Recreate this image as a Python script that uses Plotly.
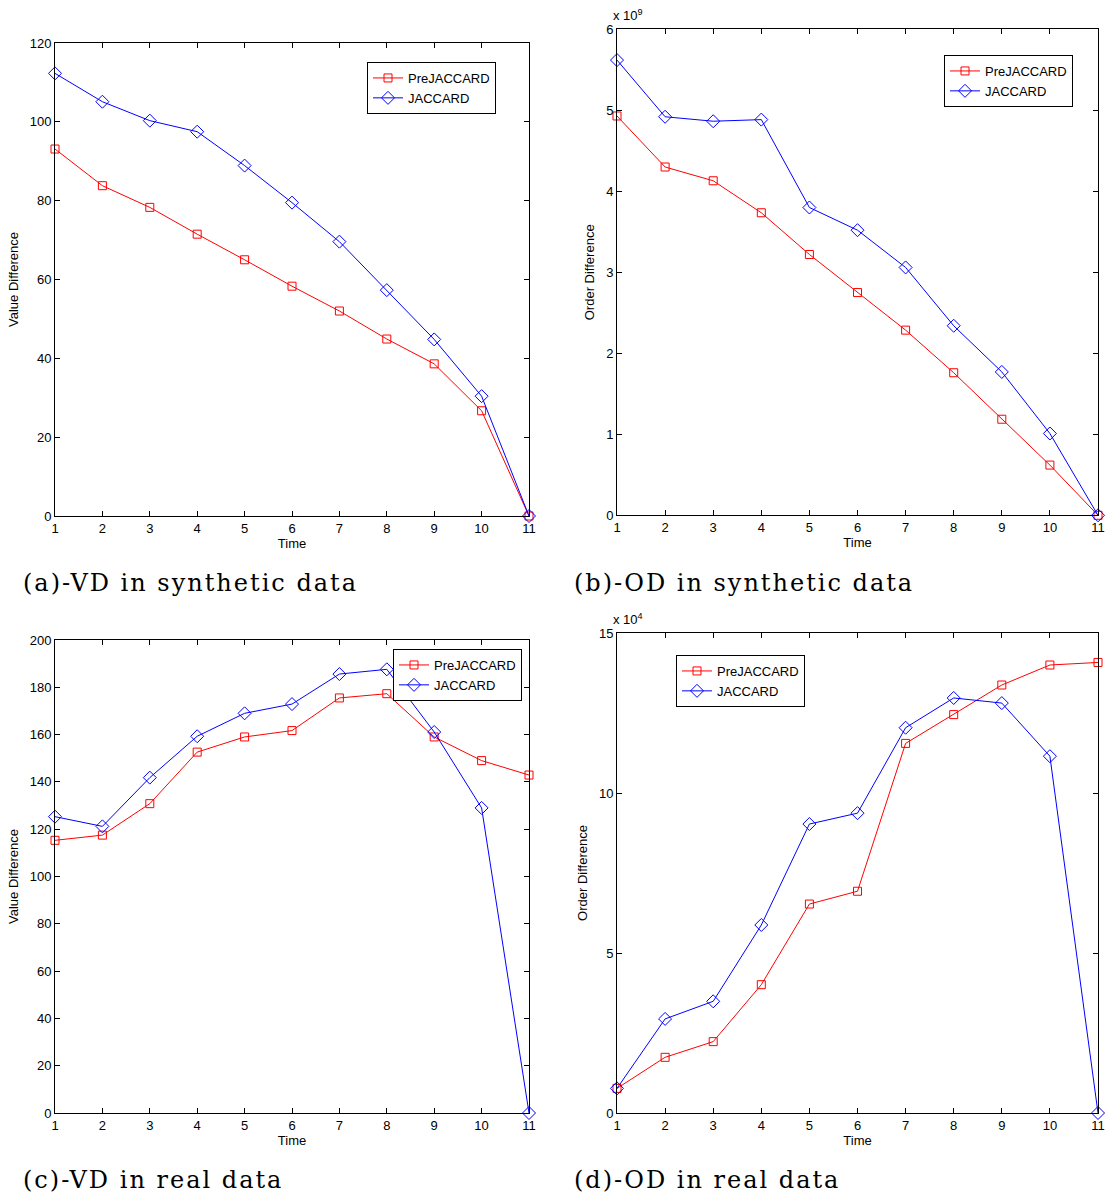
import plotly.graph_objects as go

W, H = 1107, 1199

time = list(range(1, 12))

# (a) value difference, synthetic data
vd_syn_pre = [93.1, 83.8, 78.3, 71.5, 65.0, 58.3, 52.0, 44.9, 38.6, 26.7, 0]
vd_syn_jac = [112.3, 105.1, 100.3, 97.5, 88.9, 79.5, 69.6, 57.3, 44.8, 30.4, 0]

# (b) order difference, synthetic data (units of 1e9)
od_syn_pre = [4.93, 4.30, 4.13, 3.735, 3.22, 2.75, 2.286, 1.76, 1.186, 0.62, 0]
od_syn_jac = [5.62, 4.92, 4.865, 4.885, 3.80, 3.52, 3.06, 2.34, 1.77, 1.01, 0]

# (c) value difference, real data
vd_real_pre = [115.3, 117.5, 130.8, 152.6, 159.0, 161.7, 175.5, 177.3, 159.0, 149.0, 142.9]
vd_real_jac = [125.3, 121.2, 141.8, 159.3, 169.0, 172.9, 185.6, 187.6, 161.1, 129.0, 0]

# (d) order difference, real data (units of 1e4)
od_real_pre = [0.77, 1.74, 2.23, 4.01, 6.53, 6.93, 11.55, 12.45, 13.375, 14.0, 14.08]
od_real_jac = [0.77, 2.94, 3.49, 5.875, 9.03, 9.37, 12.04, 12.97, 12.81, 11.15, 0]

captions = ["(a)-VD in synthetic data", "(b)-OD in synthetic data",
            "(c)-VD in real data", "(d)-OD in real data"]
y_titles = ["Value Difference", "Order Difference", "Value Difference", "Order Difference"]
y_ranges = [[0, 120], [0, 6], [0, 200], [0, 15]]
y_dticks = [20, 1, 20, 5]
multipliers = [None, "x 10<sup>9</sup>", None, "x 10<sup>4</sup>"]

series = [
    (vd_syn_pre, vd_syn_jac),
    (od_syn_pre, od_syn_jac),
    (vd_real_pre, vd_real_jac),
    (od_real_pre, od_real_jac),
]

# panel boxes in pixels: left, right, top, bottom
boxes = [
    (55, 529, 43, 516),
    (617, 1098, 29.3, 515.3),
    (55, 529, 640, 1113),
    (617, 1098, 633, 1113),
]
# legend top-left corners in pixels
legend_pos = [(367, 62), (944, 55), (393, 649), (676, 655)]
caption_pos = [(21, 583), (572, 583), (21, 1180), (572, 1180)]

def px(x):
    return x / W

def py(y):
    return 1 - y / H

RED = "#ff0000"
BLUE = "#0000ff"
AX_FONT = dict(family="Liberation Sans, Arial, sans-serif", size=13, color="black")
LEG_FONT = dict(family="Liberation Sans, Arial, sans-serif", size=13, color="black")

fig = go.Figure()
annotations = []
layout = {}

for i, (pre, jac) in enumerate(series):
    n = i + 1
    sfx = "" if n == 1 else str(n)
    leg = "legend" if n == 1 else f"legend{n}"
    fig.add_trace(go.Scatter(
        x=time, y=pre, name="PreJACCARD", mode="lines+markers",
        line=dict(color=RED, width=1),
        marker=dict(symbol="square-open", size=8, color=RED, line=dict(width=1)),
        xaxis=f"x{sfx}", yaxis=f"y{sfx}", legend=leg, cliponaxis=False,
    ))
    fig.add_trace(go.Scatter(
        x=time, y=jac, name="JACCARD", mode="lines+markers",
        line=dict(color=BLUE, width=1),
        marker=dict(symbol="diamond-open", size=10, color=BLUE, line=dict(width=1)),
        xaxis=f"x{sfx}", yaxis=f"y{sfx}", legend=leg, cliponaxis=False,
    ))

    l, r, t, b = boxes[i]
    common = dict(
        showline=True, linecolor="black", linewidth=1, mirror="allticks",
        ticks="inside", ticklen=5, tickcolor="black", tickwidth=1,
        showgrid=False, zeroline=False, tickfont=AX_FONT, automargin=False,
    )
    layout[f"xaxis{sfx}"] = dict(
        domain=[px(l), px(r)], range=[1, 11], tickmode="array",
        tickvals=time, anchor=f"y{sfx}",
        title=dict(text="Time", font=AX_FONT, standoff=2), **common,
    )
    layout[f"yaxis{sfx}"] = dict(
        domain=[py(b), py(t)], range=y_ranges[i], dtick=y_dticks[i], tick0=0,
        anchor=f"x{sfx}",
        title=dict(text=y_titles[i], font=AX_FONT, standoff=8), **common,
    )
    lx, ly = legend_pos[i]
    layout[leg] = dict(
        x=px(lx), y=py(ly), xanchor="left", yanchor="top",
        bgcolor="white", bordercolor="black", borderwidth=1,
        font=LEG_FONT, tracegroupgap=0, itemwidth=30,
    )
    if multipliers[i]:
        annotations.append(dict(
            text=multipliers[i], x=px(l - 6), y=py(t - 4), xref="paper", yref="paper",
            xanchor="left", yanchor="bottom", showarrow=False,
            font=dict(family="Liberation Sans, Arial, sans-serif", size=13, color="black"),
        ))
    cx, cy = caption_pos[i]
    annotations.append(dict(
        text=f'<span style="letter-spacing:2px">{captions[i]}</span>',
        x=px(cx), y=py(cy), xref="paper", yref="paper",
        xanchor="left", yanchor="middle", showarrow=False,
        font=dict(family="DejaVu Serif, serif", size=24, color="black"),
    ))

fig.update_layout(
    width=W, height=H, autosize=False,
    margin=dict(l=0, r=0, t=0, b=0),
    paper_bgcolor="white", plot_bgcolor="white",
    annotations=annotations,
    **layout,
)

fig.write_html("out.html")
